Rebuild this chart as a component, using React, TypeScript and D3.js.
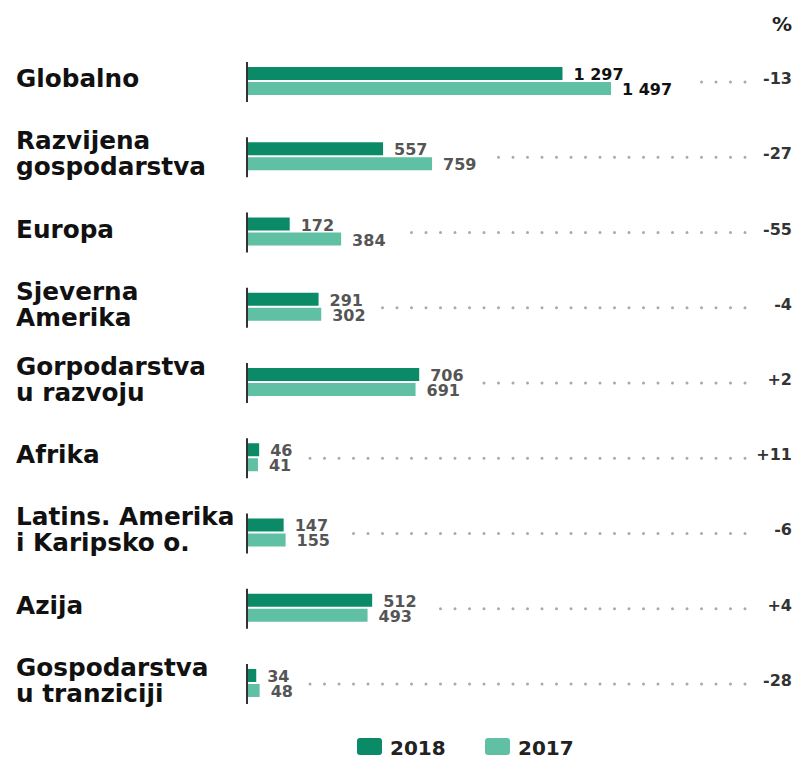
import * as d3 from "d3";

const width = 798;
const height = 759;

// categories (label lines), values in two years, change in %
const regions = [
  ["Globalno"],
  ["Razvijena", "gospodarstva"],
  ["Europa"],
  ["Sjeverna", "Amerika"],
  ["Gorpodarstva", "u razvoju"],
  ["Afrika"],
  ["Latins. Amerika", "i Karipsko o."],
  ["Azija"],
  ["Gospodarstva", "u tranziciji"],
];
const values2018 = [1297, 557, 172, 291, 706, 46, 147, 512, 34];
const values2017 = [1497, 759, 384, 302, 691, 41, 155, 493, 48];
const changes = ["-13", "-27", "-55", "-4", "+2", "+11", "-6", "+4", "-28"];
const years = ["2018", "2017"];

const dark = "#0b8a68";
const light = "#5fc0a4";
const font = "'DejaVu Sans', Verdana, sans-serif";

// "1 297" style numbers
const fmt = (v: number) => d3.format(",")(v).replace(/,/g, " ");
// rough width of a bold 16px DejaVu number
const textWidth = (s: string) =>
  s.split("").reduce((w, ch) => w + (ch === " " ? 5.6 : 11.1), 0);

export default function App() {
  const keys = regions.map((r) => r.join(" "));
  const y = d3.scaleBand().domain(keys).range([43.4, 720.6]).padding(0);
  const x = d3.scaleLinear().domain([0, 1497]).range([248, 611]);
  const axisX = 247;
  const dotEnd = 745;

  return (
    <svg
      width={width}
      height={height}
      style={{ display: "block", position: "fixed", left: 0, top: 0 }}
    >
      <rect width={width} height={height} fill="#fff" />
      <text x={792} y={31} textAnchor="end" fontFamily={font} fontWeight="bold" fontSize={20} fill="#222">
        %
      </text>
      {regions.map((lines, i) => {
        const c = (y(keys[i]) ?? 0) + y.bandwidth() / 2;
        const v18 = values2018[i];
        const v17 = values2017[i];
        const first = i === 0;
        const t18 = x(v18) + 11;
        const t17 = x(v17) + 11;
        const labelEnd = Math.max(t18 + textWidth(fmt(v18)), t17 + textWidth(fmt(v17)));
        const valueColor = first ? "#111" : "#555";
        return (
          <g key={keys[i]}>
            {lines.map((line, j) => (
              <text
                key={j}
                transform={`translate(16,${c + 6 + (j - (lines.length - 1) / 2) * 26}) scale(1.03,1)`}
                fontFamily={font}
                fontWeight="bold"
                fontSize={24}
                fill="#111"
              >
                {line}
              </text>
            ))}
            <rect x={x(0)} y={c - 14} width={x(v18) - x(0)} height={13} fill={dark} />
            <rect x={x(0)} y={c + 1} width={x(v17) - x(0)} height={13} fill={light} />
            <line x1={axisX} x2={axisX} y1={c - 19} y2={c + 21} stroke="#333" strokeWidth={2} />
            <text x={t18} y={c - 1} fontFamily={font} fontWeight="bold" fontSize={16} fill={valueColor}>
              {fmt(v18)}
            </text>
            <text x={t17} y={c + 14} fontFamily={font} fontWeight="bold" fontSize={16} fill={valueColor}>
              {fmt(v17)}
            </text>
            <line
              x1={dotEnd}
              x2={labelEnd + 16}
              y1={c + 1}
              y2={c + 1}
              stroke="#a9a9a9"
              strokeWidth={3}
              strokeLinecap="round"
              strokeDasharray="0 14.5"
            />
            <text x={792} y={c + 3} textAnchor="end" fontFamily={font} fontWeight="bold" fontSize={16} fill="#333">
              {changes[i]}
            </text>
          </g>
        );
      })}
      {years.map((yr, i) => {
        const lx = 357 + i * 128;
        return (
          <g key={yr}>
            <rect x={lx} y={738} width={25} height={17} rx={3} fill={i === 0 ? dark : light} />
            <text x={lx + 33} y={755} fontFamily={font} fontWeight="bold" fontSize={20} fill="#222">
              {yr}
            </text>
          </g>
        );
      })}
    </svg>
  );
}
